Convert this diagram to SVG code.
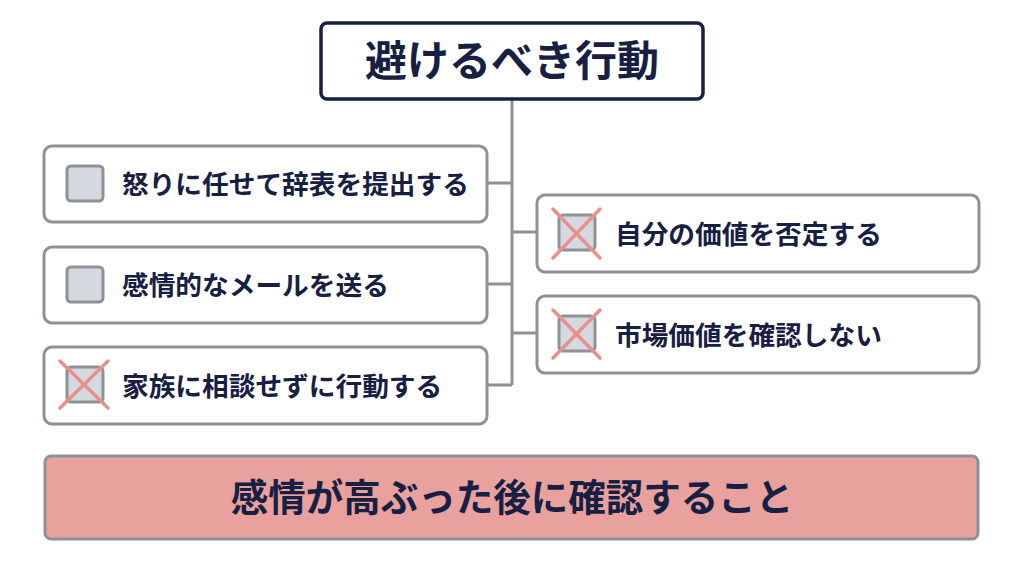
<svg xmlns="http://www.w3.org/2000/svg" width="1024" height="572" viewBox="0 0 1024 572">
<style>
.box{fill:#ffffff;stroke:#8e9196;stroke-width:3}
.cb{fill:#d4d8df;stroke:#8e9196;stroke-width:3}
.x{stroke:#e8908c;stroke-width:3.5;stroke-linecap:round}
.t{font-family:"Noto Sans CJK JP","Noto Sans",sans-serif;font-weight:700;fill:#172042}
.item{font-size:26.7px}
.conn{stroke:#8e9196;stroke-width:3;fill:none}
</style>
<rect width="1024" height="572" fill="#ffffff"/>
<g id="connectors">
<path class="conn" d="M512 99 V385 M487 183 H512 M487 284 H512 M487 385 H512 M512 232 H537 M512 333 H537"/>
</g>
<g id="title">
<rect x="321" y="23" width="382" height="76" rx="6" fill="#ffffff" stroke="#172042" stroke-width="3.5"/>
<text class="t" x="512" y="76" font-size="42" text-anchor="middle">避けるべき行動</text>
</g>
<g id="item1">
<rect class="box" x="44" y="146" width="443" height="76" rx="8"/>
<rect class="cb" x="67" y="166" width="36" height="35" rx="4"/>
<text class="t item" x="122" y="194">怒りに任せて辞表を提出する</text>
</g>
<g id="item2">
<rect class="box" x="44" y="247" width="443" height="76" rx="8"/>
<rect class="cb" x="67" y="267" width="36" height="35" rx="4"/>
<text class="t item" x="122" y="295">感情的なメールを送る</text>
</g>
<g id="item3">
<rect class="box" x="44" y="347" width="443" height="77" rx="8"/>
<rect class="cb" x="67" y="367" width="36" height="35" rx="4"/>
<line class="x" x1="60" y1="361" x2="108" y2="408"/>
<line class="x" x1="108" y1="361" x2="60" y2="408"/>
<text class="t item" x="122" y="396">家族に相談せずに行動する</text>
</g>
<g id="item4">
<rect class="box" x="537" y="195" width="442" height="77" rx="8"/>
<rect class="cb" x="559" y="215" width="36" height="35" rx="4"/>
<line class="x" x1="553" y1="209" x2="600" y2="258"/>
<line class="x" x1="600" y1="209" x2="553" y2="258"/>
<text class="t item" x="615" y="244">自分の価値を否定する</text>
</g>
<g id="item5">
<rect class="box" x="537" y="296" width="442" height="77" rx="8"/>
<rect class="cb" x="559" y="316" width="36" height="35" rx="4"/>
<line class="x" x1="553" y1="310" x2="600" y2="358"/>
<line class="x" x1="600" y1="310" x2="553" y2="358"/>
<text class="t item" x="615" y="345">市場価値を確認しない</text>
</g>
<g id="summary">
<rect x="45" y="456" width="933" height="83" rx="6" fill="#e9a19d" stroke="#8e9196" stroke-width="3"/>
<text class="t" x="512" y="511" font-size="37.5" text-anchor="middle">感情が高ぶった後に確認すること</text>
</g>
</svg>
